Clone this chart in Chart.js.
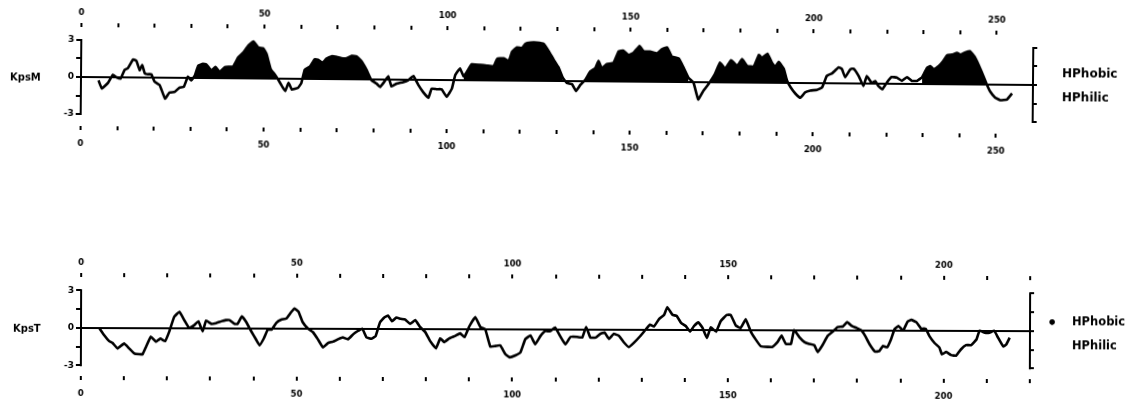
<!DOCTYPE html>
<html>
<head>
<meta charset="utf-8">
<script src="https://cdn.jsdelivr.net/npm/chart.js@4.4.1/dist/chart.umd.min.js"></script>
<style>
  html, body { margin: 0; padding: 0; background: #fff; }
  body { width: 1128px; height: 406px; position: relative; overflow: hidden; font-family: 'DejaVu Sans', sans-serif; }
  .panel { position: absolute; left: 0; width: 1128px; }
  .panel canvas { position: absolute; left: 0; top: 0; }
  .side { position: absolute; font-weight: bold; color: #000; white-space: nowrap; line-height: 1; }
</style>
</head>
<body>
<div class="panel" style="top:0;height:160px;transform-origin:81px 77px;transform:rotate(0.48deg)">
  <canvas id="kpsM" width="1128" height="160"></canvas>
  <div class="side" style="left:10px;top:73px;font-size:10px">KpsM</div>
  <div class="side" style="left:1062px;top:59px;font-size:12px">HPhobic</div>
  <div class="side" style="left:1062px;top:83px;font-size:12px">HPhilic</div>
</div>
<div class="panel" style="top:250px;height:156px;transform-origin:81px 77.7px;transform:rotate(0.19deg)">
  <canvas id="kpsT" width="1128" height="156"></canvas>
  <div class="side" style="left:13px;top:74px;font-size:10px">KpsT</div>
  <div class="side" style="left:1047px;top:62px;font-size:16px">•</div>
  <div class="side" style="left:1072px;top:63px;font-size:11.5px">HPhobic</div>
  <div class="side" style="left:1072px;top:87px;font-size:11.5px">HPhilic</div>
</div>
<script>
// KpsM hydropathy profile (residue, value)
const kpsMResidues = [4.8, 5.7, 7.4, 8.7, 9.7, 10.8, 11.9, 12.8, 14.2, 15.1,
  16.0, 16.7, 17.4, 18.3, 19.2, 20.1, 21.5, 23.0, 24.2, 25.6,
  26.9, 28.1, 29.2, 30.1, 31.1, 32.0, 33.3, 34.2, 35.6, 36.7,
  37.9, 39.3, 41.5, 42.9, 44.3, 45.6, 47.0, 48.4, 49.7, 50.6,
  51.8, 52.9, 53.8, 54.9, 55.8, 56.7, 57.6, 59.3, 60.2, 61.1,
  62.5, 63.8, 64.8, 65.9, 67.0, 68.4, 69.8, 71.1, 72.5, 73.9,
  75.2, 76.6, 78.0, 79.3, 80.7, 81.7, 82.8, 83.9, 84.8, 86.2,
  88.0, 89.3, 90.8, 92.1, 93.5, 94.9, 95.8, 97.2, 98.5, 99.9,
  101.3, 102.2, 103.5, 104.5, 105.4, 106.7, 109.0, 110.8, 112.7, 113.6,
  115.4, 116.8, 117.7, 119.0, 120.4, 121.3, 122.7, 124.5, 126.3, 127.7,
  129.0, 130.4, 131.6, 132.7, 134.1, 135.2, 136.4, 137.7, 139.1, 140.4,
  141.3, 142.2, 143.6, 145.4, 146.8, 148.1, 149.5, 150.9, 152.5, 153.6,
  155.4, 157.3, 158.6, 160.0, 161.3, 163.2, 164.5, 165.9, 167.3, 168.6,
  170.0, 171.4, 173.1, 174.5, 175.9, 177.5, 179.2, 180.5, 181.9, 183.7,
  185.1, 186.0, 187.4, 188.7, 189.6, 190.5, 191.9, 192.8, 193.8, 195.1,
  196.5, 197.8, 199.2, 201.0, 202.4, 203.7, 205.1, 206.0, 206.9, 207.8,
  208.7, 210.1, 211.0, 212.4, 213.7, 214.6, 216.0, 216.9, 217.8, 218.9,
  220.1, 221.4, 222.8, 224.2, 225.6, 226.9, 228.3, 229.7, 231.0, 231.9,
  232.9, 234.2, 235.4, 236.5, 237.9, 239.2, 240.1, 241.5, 242.7, 244.0,
  245.1, 246.5, 247.4, 248.3, 249.7, 251.1, 252.9, 254.3];
const kpsMValues = [-0.27, -0.92, -0.46, 0.2, 0, -0.1, 0.6, 0.75, 1.45, 1.35,
  0.6, 1.0, 0.35, 0.27, 0.27, -0.33, -0.6, -1.7, -1.2, -1.15,
  -0.8, -0.73, 0.1, -0.2, 0.2, 1.0, 1.15, 1.1, 0.6, 0.9,
  0.5, 0.9, 0.95, 1.7, 2.1, 2.65, 3.0, 2.5, 2.45, 2.0,
  0.75, 0.35, -0.05, -0.6, -1.0, -0.33, -0.87, -0.73, -0.33, 0.75,
  1.0, 1.6, 1.55, 1.3, 1.65, 1.85, 1.8, 1.7, 1.7, 1.9,
  1.85, 1.45, 0.75, -0.05, -0.33, -0.6, -0.2, 0.27, -0.55, -0.33,
  -0.2, -0.05, 0.3, -0.4, -1.0, -1.45, -0.7, -0.75, -0.75, -1.35,
  -0.7, 0.4, 0.95, 0.3, 0.7, 1.3, 1.25, 1.2, 1.15, 1.75,
  1.8, 1.6, 2.35, 2.7, 2.65, 3.0, 3.1, 3.1, 3.0, 2.4,
  1.75, 1.1, 0.25, -0.15, -0.25, -0.8, -0.3, 0.1, 0.8, 1.05,
  1.65, 1.05, 1.4, 1.5, 2.45, 2.5, 2.15, 2.35, 2.9, 2.45,
  2.45, 2.3, 2.65, 2.8, 2.05, 1.9, 1.2, 0.35, -0.05, -1.4,
  -0.7, -0.15, 0.65, 1.6, 1.1, 1.8, 1.35, 1.9, 1.35, 1.3,
  2.25, 2.0, 2.35, 1.6, 1.3, 1.7, 1.15, 0.2, -0.35, -0.85,
  -1.2, -0.75, -0.6, -0.55, -0.35, 0.6, 0.8, 1.05, 1.3, 1.15,
  0.5, 1.15, 1.2, 0.6, -0.2, 0.6, 0.05, 0.2, -0.2, -0.45,
  0.1, 0.55, 0.5, 0.25, 0.55, 0.25, 0.25, 0.55, 1.3, 1.45,
  1.2, 1.45, 1.85, 2.35, 2.4, 2.55, 2.4, 2.6, 2.7, 2.25,
  1.6, 0.65, 0, -0.55, -1.05, -1.25, -1.2, -0.7];
// stretches shaded black in KpsM
const kpsMSpans = [[31.1, 53.8], [60.2, 79.3], [104.5, 131.6], [137.7, 165.9], [171.4, 192.8], [229.7, 247.4]];

// KpsT hydropathy profile
const kpsTResidues = [4.2, 5.4, 6.5, 7.3, 8.5, 10.0, 11.2, 12.4, 13.5, 14.3,
  15.1, 16.2, 17.4, 18.4, 19.5, 20.5, 21.6, 22.8, 24.0, 25.1,
  26.3, 27.2, 28.2, 29.0, 30.2, 31.3, 32.5, 33.6, 34.4, 35.6,
  36.3, 37.3, 38.3, 39.4, 40.6, 41.4, 42.4, 43.3, 44.2, 45.3,
  46.4, 47.6, 48.7, 49.5, 50.4, 51.4, 52.6, 53.8, 54.9, 56.1,
  57.3, 58.4, 59.6, 60.7, 61.9, 63.1, 64.1, 65.2, 66.2, 67.3,
  68.3, 69.3, 70.3, 71.2, 72.1, 73.1, 74.1, 75.1, 76.3, 77.5,
  78.6, 79.8, 80.9, 82.3, 83.3, 84.2, 85.4, 86.8, 87.9, 88.9,
  90.0, 91.4, 92.6, 93.7, 94.9, 96.1, 97.2, 98.4, 99.4, 100.7,
  101.9, 103.0, 104.2, 105.3, 106.5, 107.6, 108.8, 109.9, 111.1, 112.3,
  113.5, 115.0, 116.2, 117.1, 118.1, 119.3, 120.4, 121.4, 122.4, 123.5,
  124.7, 125.8, 127.0, 128.2, 129.7, 130.9, 131.9, 132.8, 134.0, 135.2,
  135.9, 137.1, 138.1, 139.1, 140.2, 141.2, 142.1, 143.1, 144.1, 145.1,
  146.0, 147.2, 148.3, 149.7, 150.6, 151.8, 152.9, 154.1, 155.3, 156.4,
  157.6, 159.2, 160.3, 161.5, 162.4, 163.4, 164.6, 165.3, 166.5, 167.7,
  168.8, 170.0, 170.8, 171.9, 173.1, 174.3, 175.4, 176.6, 177.6, 178.7,
  179.7, 180.9, 181.8, 182.8, 184.1, 185.1, 185.9, 186.9, 187.8, 188.6,
  189.5, 190.6, 191.6, 192.5, 193.7, 194.8, 195.8, 196.7, 197.9, 199.0,
  199.6, 200.6, 201.7, 202.9, 204.0, 205.2, 206.4, 207.6, 208.3, 209.5,
  210.6, 211.7, 212.6, 213.8, 214.5, 215.3];
const kpsTValues = [0, -0.6, -1.05, -1.2, -1.65, -1.25, -1.65, -2.05, -2.1, -2.1,
  -1.5, -0.7, -1.1, -0.85, -1.05, -0.25, 0.9, 1.3, 0.6, 0,
  0.25, 0.55, -0.25, 0.6, 0.35, 0.4, 0.55, 0.65, 0.65, 0.35,
  0.35, 0.95, 0.5, -0.2, -0.9, -1.35, -0.8, -0.1, -0.1, 0.45,
  0.7, 0.8, 1.3, 1.6, 1.35, 0.5, 0, -0.3, -0.85, -1.5,
  -1.15, -1.05, -0.85, -0.7, -0.85, -0.45, -0.2, 0, -0.7, -0.8,
  -0.6, 0.5, 0.9, 1.05, 0.6, 0.9, 0.8, 0.75, 0.4, 0.7,
  0.15, -0.25, -0.95, -1.55, -0.75, -1.05, -0.75, -0.55, -0.35, -0.65,
  0.2, 0.95, 0.15, 0, -1.4, -1.35, -1.3, -2.0, -2.25, -2.1,
  -1.85, -0.8, -0.5, -1.2, -0.55, -0.15, -0.15, 0.15, -0.55, -1.2,
  -0.6, -0.6, -0.65, 0.2, -0.65, -0.65, -0.35, -0.25, -0.75, -0.35,
  -0.5, -1.0, -1.4, -1.05, -0.5, 0, 0.4, 0.25, 0.85, 1.2,
  1.8, 1.2, 1.1, 0.55, 0.3, -0.15, 0.3, 0.6, 0.15, -0.65,
  0.2, -0.15, 0.7, 1.2, 1.2, 0.35, 0.15, 0.85, -0.15, -0.75,
  -1.3, -1.35, -1.35, -0.95, -0.45, -1.1, -1.1, 0, -0.55, -0.95,
  -1.1, -1.2, -1.75, -1.2, -0.45, -0.1, 0.25, 0.3, 0.65, 0.35,
  0.2, 0, -0.45, -1.1, -1.7, -1.65, -1.25, -1.35, -0.7, 0.1,
  0.35, 0, 0.7, 0.85, 0.65, 0.15, 0.15, -0.45, -1.0, -1.35,
  -1.9, -1.7, -1.95, -2.0, -1.5, -1.15, -1.15, -0.7, 0, -0.15,
  -0.15, 0, -0.55, -1.25, -1.1, -0.55];

const yTicks = [-3, -1.5, 0, 1.5, 3];
const yLabels = [-3, 0, 3];
const labelEvery = 50;

const tickFont = { family: 'DejaVu Sans', size: 8.5, weight: 'bold' };

const bracketPlugin = {
  id: 'bracket',
  afterDraw: function (chart) {
    const ctx = chart.ctx;
    const y = chart.scales.y;
    const area = chart.chartArea;
    ctx.save();
    ctx.strokeStyle = '#000';
    ctx.lineWidth = 2;
    ctx.beginPath();
    [area.left, area.right].forEach(function (x) {
      ctx.moveTo(x, y.getPixelForValue(3) - 1);
      ctx.lineTo(x, y.getPixelForValue(-3) + 1);
    });
    ctx.stroke();
    ctx.restore();
  }
};

const makePanel = function (id, residues, values, spans, p) {
  const datasets = [{
    data: residues.map(function (r, i) { return { x: r, y: values[i] }; }),
    borderColor: '#000',
    borderWidth: 2.6,
    pointRadius: 0,
    fill: false,
    tension: 0.1,
    xAxisID: 'x',
    yAxisID: 'y'
  }];
  if (spans.length) {
    datasets.push({
      data: residues.map(function (r, i) {
        const inside = spans.some(function (s) { return r >= s[0] && r <= s[1]; });
        return { x: r, y: inside ? values[i] : null };
      }),
      borderColor: 'rgba(0,0,0,0)',
      borderWidth: 0,
      backgroundColor: '#000',
      pointRadius: 0,
      fill: 'origin',
      tension: 0.1,
      spanGaps: false,
      xAxisID: 'x',
      yAxisID: 'y'
    });
  }

  const xTicks = function (scale) {
    const list = [];
    for (let v = 0; v <= p.tickMax; v += 10) list.push({ value: v });
    scale.ticks = list;
  };
  const xAxis = function (position, height, pad) {
    return {
      type: 'linear',
      position: position,
      min: 0,
      max: p.xMax,
      afterBuildTicks: xTicks,
      afterFit: function (scale) { scale.height = height; },
      border: { display: false },
      grid: { drawOnChartArea: false, drawTicks: true, tickLength: 4, tickColor: '#000', lineWidth: 2 },
      ticks: {
        autoSkip: false,
        maxRotation: 0,
        padding: pad,
        color: '#000',
        font: tickFont,
        callback: function (v) { return v % labelEvery === 0 ? String(v) : ''; }
      }
    };
  };
  const ySet = function (scale) {
    scale.ticks = yTicks.map(function (v) { return { value: v }; });
  };

  return new Chart(document.getElementById(id), {
    type: 'line',
    data: { datasets: datasets },
    options: {
      responsive: false,
      animation: false,
      layout: { padding: { left: 57, right: p.padRight, top: 0, bottom: 0 } },
      plugins: { legend: { display: false }, tooltip: { enabled: false } },
      scales: {
        xTop: xAxis('top', 27, 5),
        x: xAxis('bottom', p.bottomHeight, 9),
        y: {
          position: 'left',
          min: p.yMin,
          max: p.yMax,
          afterBuildTicks: ySet,
          afterFit: function (scale) { scale.width = 24; },
          border: { display: false },
          grid: {
            color: function (c) { return c.tick && c.tick.value === 0 ? '#000' : 'rgba(0,0,0,0)'; },
            lineWidth: 2,
            tickLength: 5,
            tickColor: '#000'
          },
          ticks: {
            padding: 2,
            color: '#000',
            font: { family: 'DejaVu Sans', size: 9, weight: 'bold' },
            callback: function (v) { return yLabels.indexOf(v) >= 0 ? String(v) : ''; }
          }
        },
        y2: {
          position: 'right',
          min: p.yMin,
          max: p.yMax,
          afterBuildTicks: ySet,
          afterFit: function (scale) { scale.width = 8; },
          border: { display: false },
          grid: { drawOnChartArea: false, tickLength: 4, tickColor: '#000', lineWidth: 2 },
          ticks: { display: false }
        }
      }
    },
    plugins: [bracketPlugin]
  });
};

makePanel('kpsM', kpsMResidues, kpsMValues, kpsMSpans,
  { xMax: 260, tickMax: 250, yMin: -3.97, yMax: 4.05, bottomHeight: 34, padRight: 87 });
makePanel('kpsT', kpsTResidues, kpsTValues, [],
  { xMax: 220, tickMax: 220, yMin: -3.86, yMax: 4.06, bottomHeight: 30, padRight: 90 });
</script>
</body>
</html>
